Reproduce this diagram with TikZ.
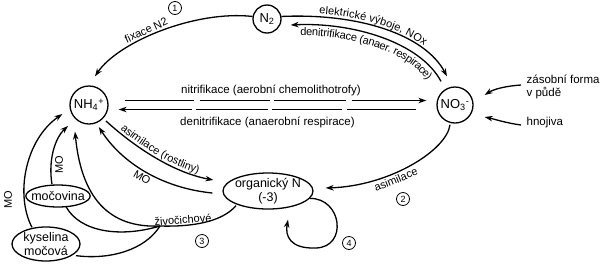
\documentclass[tikz,border=0pt]{standalone}
\usepackage{fontspec}
\setmainfont{Liberation Sans}
\usetikzlibrary{arrows.meta,positioning,calc,shapes.geometric,decorations.text}
\newcommand{\lblfont}{\fontsize{11}{12}\selectfont}

\begin{document}
\begin{tikzpicture}[x=1pt, y=-1pt, line width=1.3pt,
    chem/.style={draw, circle, inner sep=0pt, font=\fontsize{13}{15}\selectfont},
    blob/.style={draw, ellipse, inner sep=-4pt, align=center, font=\fontsize{12.5}{13.5}\selectfont},
    num/.style={draw, circle, line width=0.8pt, inner sep=0pt, minimum size=13pt, font=\fontsize{9}{10}\selectfont},
    lbl/.style={font=\lblfont, inner sep=2pt},
    arr/.style={-{Stealth[length=8pt,width=5.5pt]}},
    arrl/.style={{Stealth[length=8pt,width=5.5pt]}-}
]
\useasboundingbox (0,0) rectangle (600,266);

\node[chem, minimum size=28pt] (ntwo) at (267,19) {N\textsubscript{2}};
\node[chem, minimum size=38pt] (nh) at (89,105) {NH\textsubscript{4}\textsuperscript{+}};
\node[chem, minimum size=36pt] (no) at (455,105) {NO\textsubscript{3}\textsuperscript{-}};
\node[blob, minimum width=90pt, minimum height=36pt] (org) at (268,191) {organický N\\(-3)};
\node[blob, minimum width=60pt, minimum height=22pt] (moc) at (58,196) {močovina};
\node[blob, minimum width=68pt, minimum height=34pt] (kys) at (46,244) {kyselina\\močová};
\node[lbl, anchor=west, align=left, font=\fontsize{11.5}{12.5}\selectfont] (zas) at (524,87) {zásobní forma\\v půdě};
\node[lbl, anchor=west, font=\fontsize{11.5}{12.5}\selectfont] (hno) at (524,123) {hnojiva};

\node[num] (c1) at (175,8) {1};
\node[num] (c2) at (403,199) {2};
\node[num] (c3) at (202,241) {3};
\node[num] (c4) at (349,243) {4};

% N2
\draw[arr] (ntwo.170) .. controls (195,10) and (118,42) .. ($(nh.north)+(6,-9)$)
    node[lbl, pos=.57, sloped, above] {fixace N2};
\draw[arr, postaction={decorate, decoration={text along path, text align=center, raise=3pt,
    text={|\lblfont|elektrické výboje, NOx}}}]
    (ntwo.10) .. controls (360,13) and (425,35) .. ($(no.north)+(-8,-10)$);
\draw[arrl, postaction={decorate, decoration={text along path, text align=center, raise=-11pt,
    text={|\lblfont|denitrifikace (anaer. respirace)}}}]
    ($(ntwo.east)+(9,6)$) .. controls (352,22) and (420,42) .. ($(no.north)+(-14,-5)$);

% NH4 <-> NO3
\draw[arr, dash pattern=on 69pt off 6pt on 70pt off 4pt on 72pt off 6pt on 300pt]
    ([xshift=16pt, yshift=4.5pt]nh.east) -- ([xshift=-10pt, yshift=4.5pt]no.west)
    node[lbl, pos=.485, above=2pt, font=\fontsize{11.5}{12.5}\selectfont] {nitrifikace (aerobní chemolithotrofy)};
\draw[arr, dash pattern=on 69pt off 5pt on 70pt off 4pt on 72pt off 4pt on 300pt]
    ([xshift=-20pt, yshift=-4.5pt]no.west) -- ([xshift=10pt, yshift=-4.5pt]nh.east)
    node[lbl, pos=.5, below=5pt, font=\fontsize{11.5}{12.5}\selectfont] {denitrifikace (anaerobní respirace)};

% organic N
\draw[arr] ($(no.south)+(-5,1)$) .. controls (447,150) and (390,186) .. ($(org.east)+(12,-3)$)
    node[lbl, pos=.62, sloped, below] {asimilace};
\draw[arr, postaction={decorate, decoration={text along path, text align=center, raise=3pt,
    text={|\lblfont|asimilace (rostliny)}}}]
    ($(nh.-45)+(3,2)$) .. controls (130,143) and (170,172) .. ($(org.west)+(-9,-11)$);
\draw[arr] ($(org.west)+(-10,2)$) .. controls (162,188) and (122,163) .. ($(nh.-60)+(0,5)$)
    node[lbl, pos=.5, sloped, below] {MO};
\draw[arr] (org.-10) .. controls (342,198) and (348,247) .. (316,248)
    .. controls (290,249) and (285,236) .. ($(org.south)+(20,10)$);

% animals
\coordinate (jz) at (160,226);
\draw ($(org.south)+(-32,-4)$) .. controls (222,222) and (192,227) .. (jz)
    node[lbl, pos=.75, sloped, above=-1pt] {živočichové};
\draw[arr] (jz) .. controls (115,228) and (82,205) .. ($(nh.south)+(-14,7)$);
\draw (jz) .. controls (120,238) and (80,232) .. ($(moc.south)+(8,-1)$);
\draw (jz) .. controls (145,250) and (110,260) .. ($(kys.south)+(30,-6)$);
\draw[arr] ($(kys.north)+(-14,1)$) .. controls (15,195) and (25,140) .. ($(nh.west)+(-7,9)$);
\draw[arr] ($(moc.north)+(-6,0)$) .. controls (48,160) and (55,138) .. ($(nh.-135)+(-7,7)$);
\node[lbl, rotate=90] (mo1) at (8,200) {MO};
\node[lbl, rotate=90] (mo2) at (59,165) {MO};

% sources
\draw[arr] ($(zas.west)+(-3,-2)$) .. controls (506,86) and (494,89) .. ($(no.east)+(11,-10)$);
\draw[arr] ($(hno.west)+(-3,2)$) .. controls (506,123) and (494,119) .. ($(no.east)+(11,12)$);
\end{tikzpicture}
\end{document}
